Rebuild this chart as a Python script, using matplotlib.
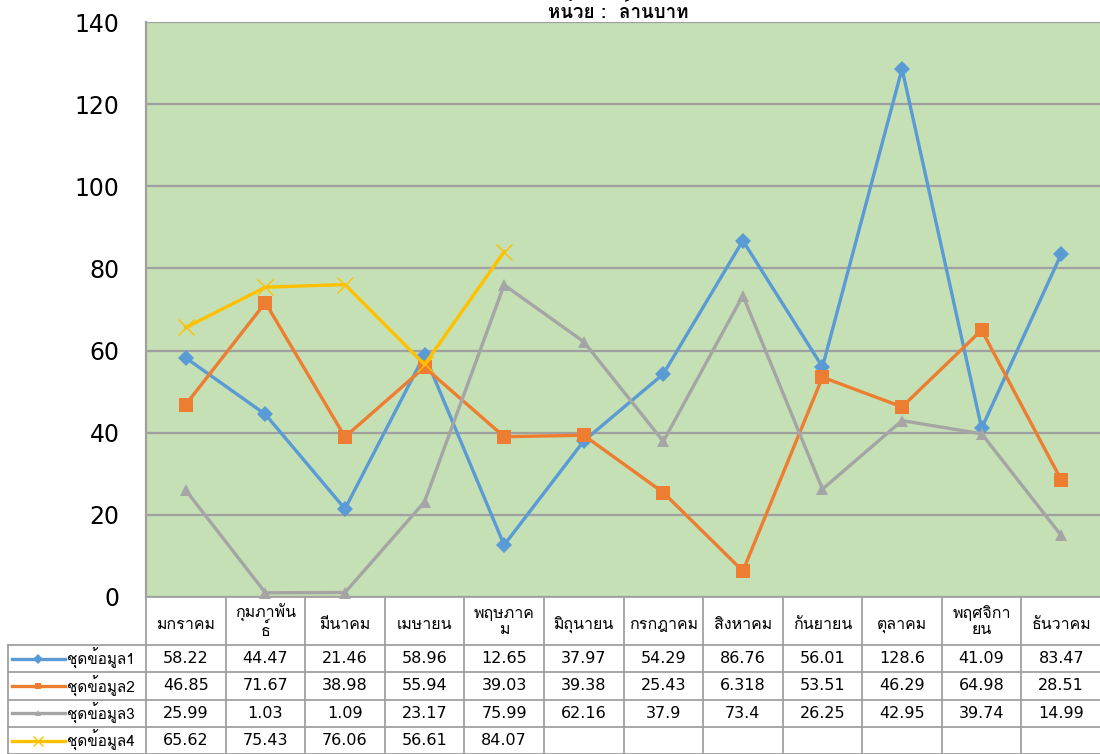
import numpy as np
import matplotlib
matplotlib.use("Agg")
import matplotlib.pyplot as plt
from matplotlib import font_manager
from matplotlib.ft2font import FT2Font
from matplotlib.transforms import blended_transform_factory
from matplotlib.lines import Line2D

# ---------------- data ----------------
months = ["มกราคม", "กุมภาพัน\nธ์", "มีนาคม", "เมษายน", "พฤษภาค\nม", "มิถุนายน",
          "กรกฎาคม", "สิงหาคม", "กันยายน", "ตุลาคม", "พฤศจิกา\nยน", "ธันวาคม"]
series_names = ["ชุดข้อมูล1", "ชุดข้อมูล2", "ชุดข้อมูล3", "ชุดข้อมูล4"]
s1 = [58.22, 44.47, 21.46, 58.96, 12.65, 37.97, 54.29, 86.76, 56.01, 128.6, 41.09, 83.47]
s2 = [46.85, 71.67, 38.98, 55.94, 39.03, 39.38, 25.43, 6.318, 53.51, 46.29, 64.98, 28.51]
s3 = [25.99, 1.03, 1.09, 23.17, 75.99, 62.16, 37.9, 73.4, 26.25, 42.95, 39.74, 14.99]
s4 = [65.62, 75.43, 76.06, 56.61, 84.07]
yticks = [0, 20, 40, 60, 80, 100, 120, 140]
title = "หน่วย :  ล้านบาท"

colors = ["#5B9BD5", "#ED7D31", "#A5A5A5", "#FFC000"]
markers = ["D", "s", "^", "x"]
msizes = [8, 9.5, 9, 11]

# ---------------- fonts ----------------
def thai_families():
    fams = []
    seen = set()
    for f in font_manager.fontManager.ttflist:
        if f.name in seen:
            continue
        try:
            cm = FT2Font(f.fname).get_charmap()
        except Exception:
            continue
        if 0x0E01 in cm and 0x0E38 in cm:
            fams.append(f.name)
            seen.add(f.name)
    return fams

thai = thai_families()
family = thai[:1] + ["DejaVu Sans"]
plt.rcParams["font.family"] = family

W, H = 1100, 754
fig = plt.figure(figsize=(W / 100, H / 100), dpi=100)

left_px, right_px, top_px, bot_px = 146, 1101, 22, 597
ax = fig.add_axes([left_px / W, 1 - bot_px / H, (right_px - left_px) / W, (bot_px - top_px) / H])
ax.set_facecolor("#C5E0B4")
ax.set_xlim(-0.5, len(months) - 0.5)
ax.set_ylim(0, 140)
ax.set_yticks(yticks)
ax.set_yticklabels([str(t) for t in yticks], fontsize=17, family=["DejaVu Sans"])
ax.tick_params(axis="y", length=0, pad=19)
ax.set_xticks([])
ax.grid(axis="y", color="#A0A0A0", linewidth=1.6)
ax.set_axisbelow(True)
for sp in ["top", "right", "bottom"]:
    ax.spines[sp].set_visible(False)
ax.spines["left"].set_color("#A0A0A0")
ax.spines["left"].set_linewidth(1.6)

all_series = [s1, s2, s3, s4]
for s, c, m, ms in zip(all_series, colors, markers, msizes):
    x = np.arange(len(s))
    if m == "x":
        ax.plot(x, s, color=c, linewidth=2.4, marker=m, markersize=ms,
                markeredgewidth=1.0, clip_on=False, zorder=3)
    else:
        ax.plot(x, s, color=c, linewidth=2.4, marker=m, markersize=ms,
                markeredgewidth=0, clip_on=False, zorder=3)

fig.text(618 / W, 1 - 0.5 / H, title, ha="center", va="top", fontsize=13.5,
         fontweight="bold")

# ---------------- data table ----------------
bt = blended_transform_factory(ax.transData, fig.transFigure)
ft = fig.transFigure
gc = "#A0A0A0"
lw = 1.3

def fy(px):
    return 1 - px / H

header_top, header_bot = 597, 645
row_h = 27.3
row_tops = [header_bot + i * row_h for i in range(len(series_names) + 1)]
n = len(months)

# vertical lines at category boundaries
for i in range(n + 1):
    ax.add_line(Line2D([i - 0.5, i - 0.5], [fy(header_top), fy(760)], transform=bt,
                       color=gc, linewidth=lw, clip_on=False))
# left border of row-label column
ax.add_line(Line2D([8 / W, 8 / W], [fy(header_bot), fy(760)], transform=ft,
                   color=gc, linewidth=lw, clip_on=False))
# horizontal lines
ax.add_line(Line2D([-0.5, n - 0.5], [fy(header_top), fy(header_top)], transform=bt,
                   color=gc, linewidth=lw, clip_on=False))
for yt in row_tops:
    ax.add_line(Line2D([8 / W, 1.0], [fy(yt), fy(yt)], transform=ft,
                       color=gc, linewidth=lw, clip_on=False))

# header labels
for i, mth in enumerate(months):
    yc = (header_top + header_bot) / 2 + (4 if "\n" not in mth else 1)
    ax.text(i, fy(yc), mth, transform=bt, ha="center",
            va="center", fontsize=11.5, linespacing=1.05)

# rows
for r, (name, s, c, m) in enumerate(zip(series_names, all_series, colors, markers)):
    yc = fy(row_tops[r] + row_h / 2)
    ax.add_line(Line2D([12 / W, 65 / W], [yc, yc], transform=ft, color=c, linewidth=2.4,
                       clip_on=False))
    ax.add_line(Line2D([38 / W], [yc], transform=ft, color=c, marker=m,
                       markersize=5 if m != "x" else 7, markeredgewidth=0 if m != "x" else 1.0,
                       clip_on=False))
    fig.text(135 / W, yc, name, ha="right", va="center", fontsize=11)
    for i, v in enumerate(s):
        ax.text(i, yc, f"{v:g}", transform=bt, ha="center", va="center", fontsize=11.5,
                family=["DejaVu Sans"])

fig.savefig("out.png", dpi=100)
